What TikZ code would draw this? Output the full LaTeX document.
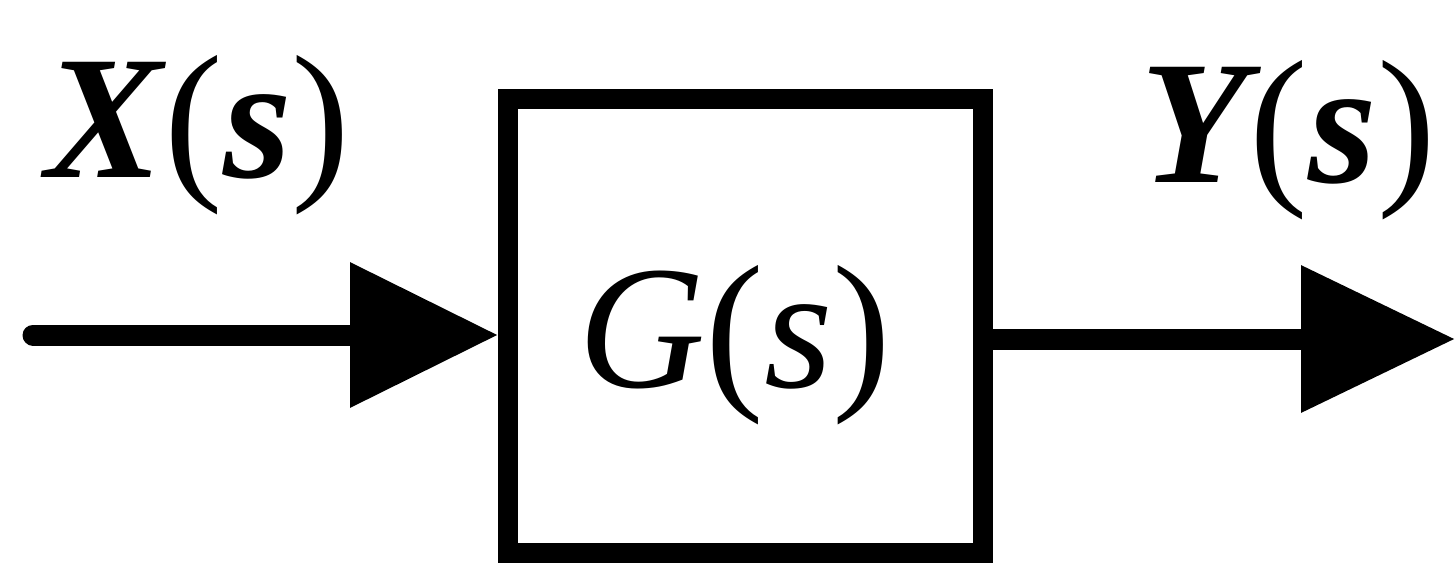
\documentclass[tikz,border=0pt]{standalone}
\usepackage{fontspec}
\setmainfont{Liberation Serif}
\usetikzlibrary{arrows.meta}
\newcommand{\bi}[1]{{\bfseries\itshape #1}}
\begin{document}
\begin{tikzpicture}[x=0.5pt,y=-0.5pt,
  blockbox/.style={draw,line width=10pt,minimum width=237.5pt,minimum height=227pt,inner sep=0pt},
  sigline/.style={line width=10.5pt},
  lbl/.style={anchor=base,inner sep=0pt,font=\fontsize{88}{88}\selectfont},
  glbl/.style={anchor=base,inner sep=0pt,font=\fontsize{88}{88}\selectfont}]
\useasboundingbox (0,0) rectangle (1455,563);
\node[blockbox] (G) at (745.5,326) {};
\node[glbl] (gt) at (735,387) {\textit{G}(\textit{s})};
\node[lbl] (xt) at (198,177) {\bi{X}\kern1pt(\bi{s})};
\node[lbl] (yt) at (1288,182) {\bi{Y}\kern1pt(\bi{s})};
\coordinate (in) at (33,335);
\coordinate (out) at (1455,339);
\draw[sigline,line cap=round,-{Triangle[length=74pt,width=70pt]}] (in) -- (G.west |- in);
\draw[sigline,-{Triangle[length=77pt,width=71pt]}] (G.east |- out) -- (out);
\end{tikzpicture}
\end{document}
